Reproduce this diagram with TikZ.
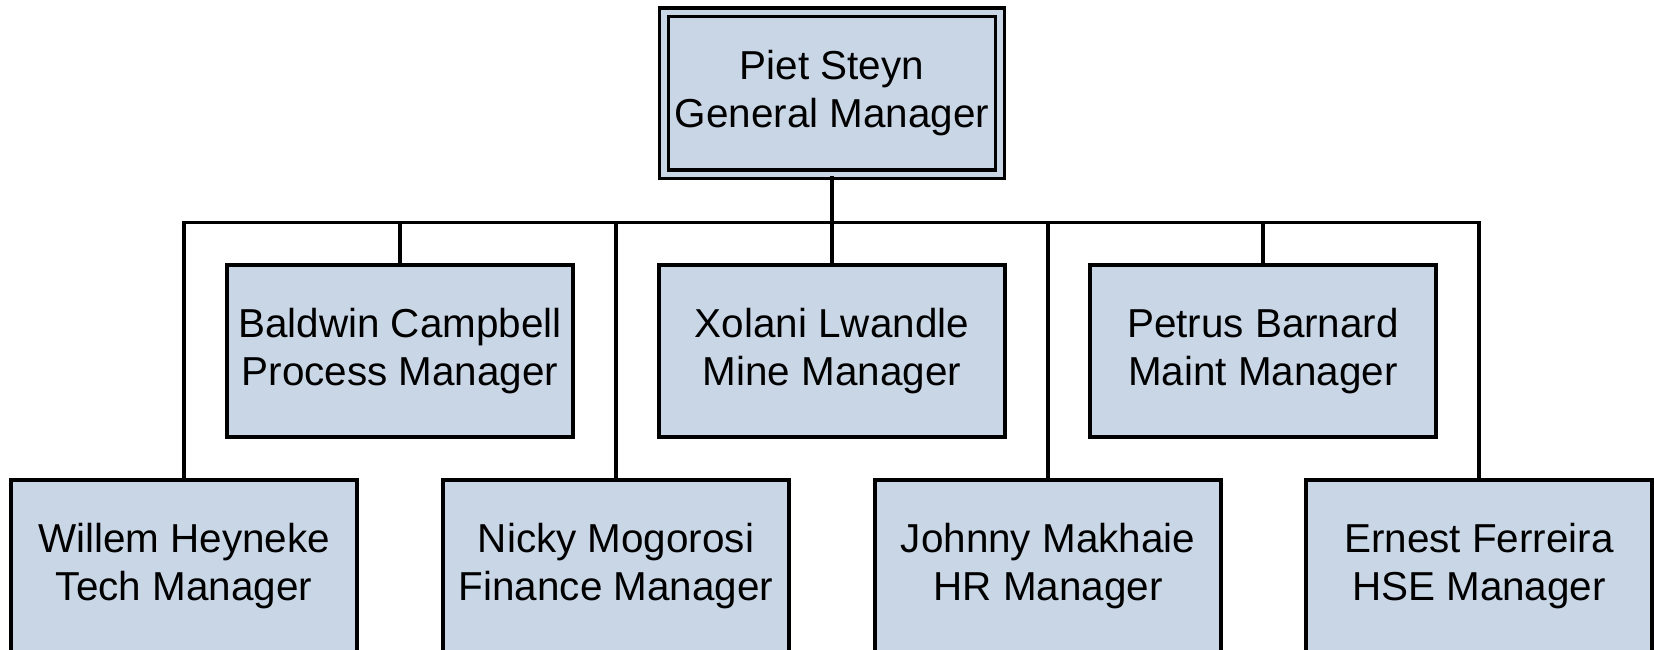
\documentclass[tikz,border=0pt]{standalone}
\usepackage{fontspec}
\setmainfont{Liberation Sans}
\usetikzlibrary{positioning}
\definecolor{boxblue}{RGB}{201,214,230}

\begin{document}
\begin{tikzpicture}[
    scale=1,
    % Define styles for consistency
    person/.style={draw=black, fill=boxblue, line width=0.9pt, inner sep=0pt,
        minimum width=3.46cm, minimum height=1.72cm, align=center,
        font=\fontsize{11.5}{13.8}\selectfont},
    head/.style={person, double=boxblue, double distance=0.055cm,
        minimum width=3.36cm, minimum height=1.62cm},
    link/.style={line width=0.9pt, color=black}
]
    \path[use as bounding box, clip] (0, 0) rectangle (16.54, -6.50);

    % ---------------------------------------------------------
    % 1. General Manager
    % ---------------------------------------------------------
    \node[head] (gm) at (8.32, -0.933) {Piet Steyn\\General Manager};

    % ---------------------------------------------------------
    % 2. Managers (two staggered rows)
    % ---------------------------------------------------------
    \node[person] (proc)  at (4.00, -3.51)  {Baldwin Campbell\\Process Manager};
    \node[person] (mine)  at (8.32, -3.51)  {Xolani Lwandle\\Mine Manager};
    \node[person] (maint) at (12.63, -3.51) {Petrus Barnard\\Maint Manager};

    \node[person] (tech) at (1.84, -5.66)  {Willem Heyneke\\Tech Manager};
    \node[person] (fin)  at (6.16, -5.66)  {Nicky Mogorosi\\Finance Manager};
    \node[person] (hr)   at (10.48, -5.66) {Johnny Makhaie\\HR Manager};
    \node[person] (hse)  at (14.79, -5.66) {Ernest Ferreira\\HSE Manager};

    % ---------------------------------------------------------
    % 3. Reporting lines
    % ---------------------------------------------------------
    \coordinate (bus) at (0, -2.226);

    \draw[link] (gm.south) -- (gm.south |- bus);
    \draw[link] (tech.north) |- (hse.north |- bus) -- (hse.north);
    \foreach \who in {proc, mine, maint, fin, hr} {
        \draw[link] (\who.north |- bus) -- (\who.north);
    }
\end{tikzpicture}
\end{document}
